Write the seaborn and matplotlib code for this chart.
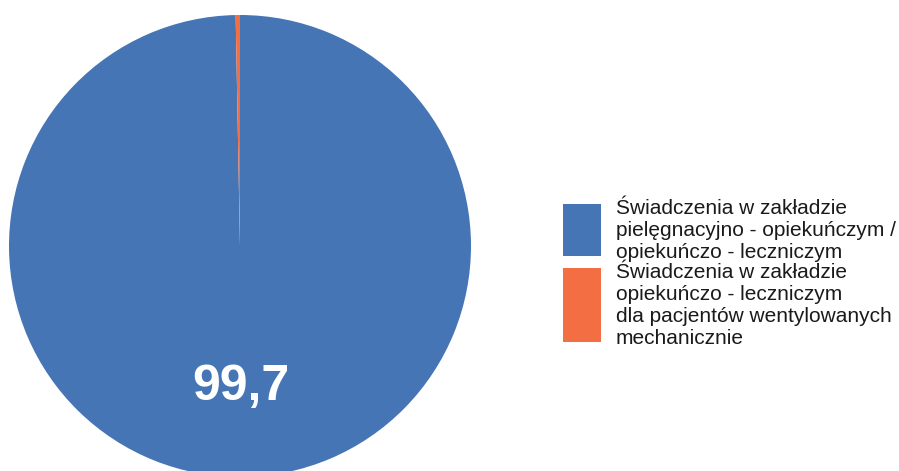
import matplotlib
matplotlib.use("Agg")
import numpy as np
import matplotlib.pyplot as plt
from matplotlib.patches import Rectangle
import seaborn as sns

sns.set_theme(style="white")
plt.rcParams['font.family'] = ['Liberation Sans', 'DejaVu Sans']

labels = ["Świadczenia w zakładzie\npielęgnacyjno - opiekuńczym /\nopiekuńczo - leczniczym",
          "Świadczenia w zakładzie\nopiekuńczo - leczniczym\ndla pacjentów wentylowanych\nmechanicznie"]
values = [99.7, 0.3]
value_labels = ["99,7", ""]
colors = ["#4575b5", "#f46e44"]

W, H = 899, 471
fig = plt.figure(figsize=(W / 100, H / 100), dpi=100)

# pie axes: centre (240, 246), radius 231 px (bottom gets clipped by the figure)
cx, cy, r = 240, 246, 231
ax = fig.add_axes([(cx - r) / W, (H - cy - r) / H, 2 * r / W, 2 * r / H])
wedges, _ = ax.pie(values, colors=colors, startangle=90, counterclock=False,
                   radius=1, wedgeprops=dict(linewidth=0))
for w, lab in zip(wedges, value_labels):
    if not lab:
        continue
    ang = np.deg2rad((w.theta1 + w.theta2) / 2)
    ax.text(0.61 * np.cos(ang), 0.61 * np.sin(ang), lab, ha='center', va='center',
            color='white', fontsize=36, fontweight='bold')
ax.set_xlim(-1, 1)
ax.set_ylim(-1, 1)
ax.set_aspect('equal')
ax.axis('off')

# legend drawn by hand: squares of differing heights like the original
boxes = [(204, 256), (268, 342)]
for (top, bot), lab, c in zip(boxes, labels, colors):
    fig.add_artist(Rectangle((563 / W, (H - bot) / H), 38 / W, (bot - top) / H,
                             transform=fig.transFigure, color=c, lw=0))
    fig.text(616 / W, (H - (top + bot) / 2) / H, lab, ha='left', va='center',
             fontsize=15, color='#1a1a1a', linespacing=1.2)

fig.savefig("out.png", dpi=100)
